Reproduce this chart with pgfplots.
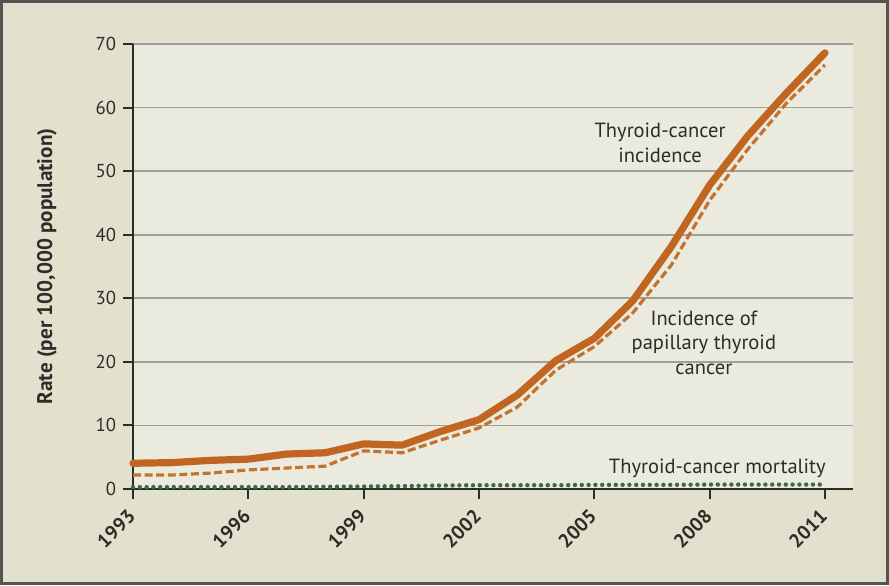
\documentclass[border=0pt]{standalone}
\usepackage{pgfplots}
\pgfplotsset{compat=1.18}
\usepackage{fontspec}
\setmainfont{PT Sans}
\definecolor{bgout}{RGB}{226,225,206}
\definecolor{bgin}{RGB}{235,234,223}
\definecolor{framec}{RGB}{85,85,80}
\definecolor{axisc}{RGB}{45,45,40}
\definecolor{gridc}{RGB}{160,160,150}
\definecolor{orangeA}{RGB}{192,102,32}
\definecolor{orangeB}{RGB}{196,114,44}
\definecolor{greenA}{RGB}{60,105,70}
\begin{document}
\begin{tikzpicture}[x=1bp,y=1bp]
\useasboundingbox (0,0) rectangle (444.5,292.5);
\fill[bgout] (0,0) rectangle (444.5,292.5);
\draw[framec, line width=1.6bp] (0.8,0.8) rectangle (443.7,291.7);
\begin{axis}[
  at={(66.5bp,48bp)}, anchor=south west,
  scale only axis, width=360bp, height=222.5bp,
  xmin=1993, xmax=2011.73, ymin=0, ymax=70,
  axis x line*=bottom, axis y line*=left,
  axis line style={color=axisc, line width=1bp, -},
  xtick={1993,1996,...,2011}, ytick={0,10,...,70},
  tick style={color=axisc, line width=1bp},
  tick align=outside, major tick length=5bp,
  ymajorgrids, grid style={color=gridc, line width=0.9bp},
  axis background/.style={fill=bgin},
  /pgf/number format/assume math mode=true,
  /pgf/number format/1000 sep={},
  xticklabel style={xshift=1.8bp, yshift=-4.6bp, rotate=45, anchor=east, font=\bfseries\fontsize{9.8}{10}\selectfont, text=axisc},
  yticklabel style={font=\fontsize{9.4}{10}\selectfont, text=axisc},
  ylabel={Rate (per 100,000 population)},
  ylabel style={at={(axis description cs:-0.1194,0.5)}, anchor=center, font=\bfseries\fontsize{10.6}{12}\selectfont, text=axisc},
  clip=false,
]
\addplot[greenA, line width=2.2bp, line cap=round, dash pattern=on 0bp off 3.4bp] coordinates {
(1993,0.3) (1994,0.3) (1995,0.3) (1996,0.3) (1997,0.3) (1998,0.35) (1999,0.4) (2000,0.45) (2001,0.55) (2002,0.6) (2003,0.6) (2004,0.6) (2005,0.65) (2006,0.65) (2007,0.65) (2008,0.7) (2009,0.7) (2010,0.7) (2011,0.7)};
\addplot[orangeB, line width=1.6bp, dash pattern=on 4bp off 1.8bp] coordinates {
(1993,2.2) (1994,2.2) (1995,2.5) (1996,3.0) (1997,3.3) (1998,3.6) (1999,6.0) (2000,5.7) (2001,7.7) (2002,9.6) (2003,12.9) (2004,18.7) (2005,22.4) (2006,27.7) (2007,35.2) (2008,45.4) (2009,53.5) (2010,60.7) (2011,66.7)};
\addplot[orangeA, line width=3.6bp, line cap=round, line join=round] coordinates {
(1993,4.05) (1994,4.15) (1995,4.5) (1996,4.7) (1997,5.5) (1998,5.7) (1999,7.1) (2000,6.9) (2001,9.05) (2002,10.9) (2003,14.8) (2004,20.2) (2005,23.7) (2006,29.6) (2007,38.1) (2008,47.8) (2009,55.6) (2010,62.3) (2011,68.6)};
\node[align=center, font=\fontsize{10.3}{12.5}\selectfont, text=axisc] at (axis cs:2006.71,54.4) {Thyroid-cancer\\incidence};
\node[align=center, font=\fontsize{10.3}{12.5}\selectfont, text=axisc] at (axis cs:2007.85,23.0) {Incidence of\\papillary thyroid\\cancer};
\node[align=center, font=\fontsize{10.3}{12.5}\selectfont, text=axisc] at (axis cs:2008.2,3.3) {Thyroid-cancer mortality};
\end{axis}
\end{tikzpicture}
\end{document}
